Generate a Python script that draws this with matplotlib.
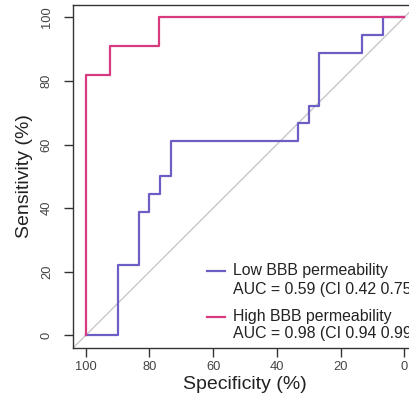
"""ROC-кривые: низкая / высокая проницаемость ГЭБ (стиль pROC из R)."""
import matplotlib
matplotlib.use("Agg")
import matplotlib.pyplot as plt

# точки ступенчатых ROC-кривых (специфичность %, чувствительность %)
low_spec = [100, 90, 90, 83.3, 83.3, 80, 80, 76.7, 76.7, 73.3, 73.3, 33.3, 33.3,
            30, 30, 26.7, 26.7, 13.3, 13.3, 6.7, 6.7, 0]
low_sens = [0, 0, 22.2, 22.2, 38.9, 38.9, 44.4, 44.4, 50, 50, 61.1, 61.1, 66.7,
            66.7, 72.2, 72.2, 88.9, 88.9, 94.4, 94.4, 100, 100]
high_spec = [100, 100, 92.3, 92.3, 76.9, 76.9, 0]
high_sens = [0, 81.8, 81.8, 90.9, 90.9, 100, 100]

labels = ["Low BBB permeability", "High BBB permeability"]
auc_text = ["AUC = 0.59 (CI 0.42 0.75)", "AUC = 0.98 (CI 0.94 0.99)"]
ticks = [0, 20, 40, 60, 80, 100]

BLUE = "#6b5ec4"
PINK = "#d63b80"
FRAME = "#333333"

plt.rcParams["font.family"] = ["Liberation Sans", "DejaVu Sans"]

fig = plt.figure(figsize=(4.09, 4.0), dpi=100)
# оси выходят за правый край картинки, как в исходнике (обрезано)
ax = fig.add_axes([73 / 409, 52 / 400, 344 / 409, 343.4 / 400])

# диагональ через весь график, как abline в R
ax.axline((100, 0), (0, 100), color="#c8c8c8", lw=1.0, zorder=1)
ax.plot(low_spec, low_sens, color=BLUE, lw=1.6, zorder=3)
ax.plot(high_spec, high_sens, color=PINK, lw=1.6, zorder=4)

ax.set_xlim(104, -4)
ax.set_ylim(-4, 104)
ax.set_xticks(ticks)
ax.set_yticks(ticks)
ax.tick_params(axis="both", colors=FRAME, length=6.5, width=1.0,
               labelsize=9.3, labelcolor="#444444")
ax.tick_params(axis="x", pad=3)
ax.tick_params(axis="y", pad=8)
for lab in ax.get_yticklabels():
    lab.set_rotation(90)
    lab.set_va("center")
for sp in ax.spines.values():
    sp.set_color(FRAME)
    sp.set_linewidth(1.0)

ax.set_xlabel("Specificity (%)", fontsize=14, color="#222222", labelpad=2)
ax.set_ylabel("Sensitivity (%)", fontsize=14, color="#222222", labelpad=6)

# легенда вручную: линия на уровне первой строки
colors = [BLUE, PINK]
rows = [(0.225, 0.171), (0.091, 0.043)]
for c, lab, auc, (y1, y2) in zip(colors, labels, auc_text, rows):
    ax.plot([0.39, 0.442], [y1, y1], color=c, lw=1.6, transform=ax.transAxes,
            clip_on=False)
    ax.text(0.465, y1, lab, transform=ax.transAxes, fontsize=11.4,
            va="center", ha="left", color="#222222")
    ax.text(0.465, y2, auc, transform=ax.transAxes, fontsize=11.4,
            va="center", ha="left", color="#222222")

fig.savefig("out.png", dpi=100)
